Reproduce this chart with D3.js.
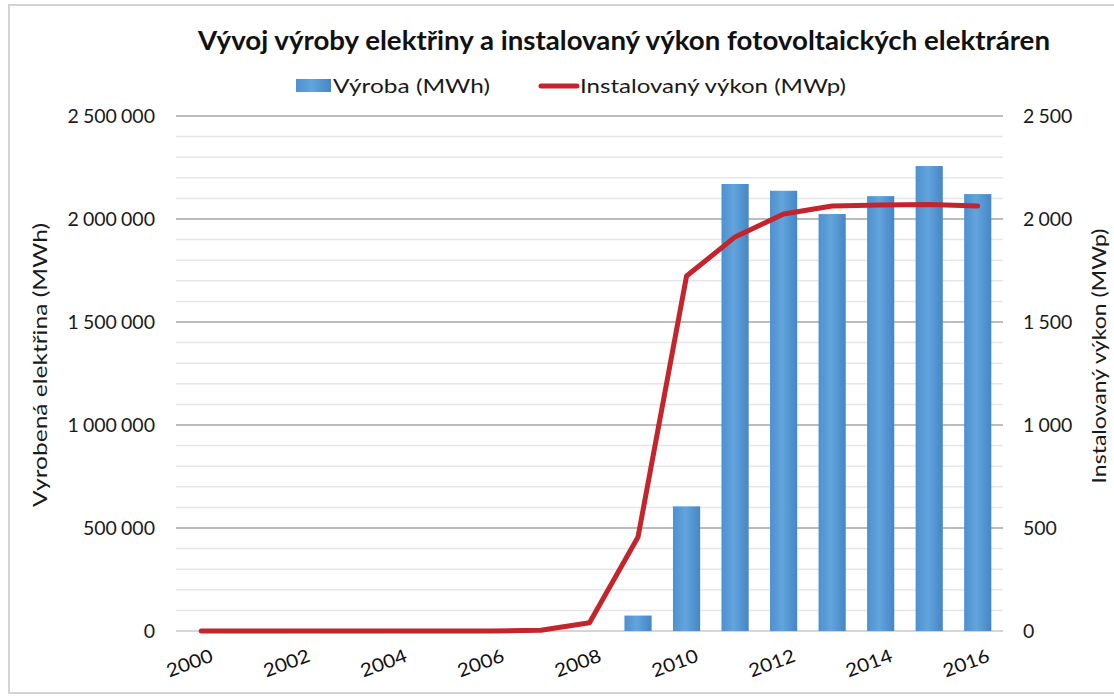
<!DOCTYPE html>
<html><head><meta charset="utf-8">
<script src="https://cdn.jsdelivr.net/npm/d3@7"></script>
<style>body{margin:0;background:#fff}svg{display:block}text{font-family:Lato,"Open Sans",sans-serif}</style>
</head><body>
<svg id="c" width="1114" height="696"></svg>
<script>
const years = [2000,2001,2002,2003,2004,2005,2006,2007,2008,2009,2010,2011,2012,2013,2014,2015,2016];
const production = [null,null,null,null,null,null,null,null,null,75000,605000,2170000,2137000,2024000,2111000,2257000,2121000];
const installed = [0,0,0,0,0.1,0.2,0.4,3.4,40,456,1723,1913,2024,2063,2068,2070,2063];
const leftTicks = [0,500000,1000000,1500000,2000000,2500000];
const rightTicks = [0,500,1000,1500,2000,2500];
const xLabelYears = [2000,2002,2004,2006,2008,2010,2012,2014,2016];
const title = "Vývoj výroby elektřiny a instalovaný výkon fotovoltaických elektráren";
const seriesNames = ["Výroba (MWh)","Instalovaný výkon (MWp)"];
const leftTitle = "Vyrobená elektřina (MWh)";
const rightTitle = "Instalovaný výkon (MWp)";

const svg = d3.select("#c");
const L=177, R=1002, T=116, B=631;
const fmt = d3.formatLocale({decimal:",",thousands:"\u2008",grouping:[3],currency:["",""]}).format(",");

// frame
svg.append("rect").attr("x",9).attr("y",5).attr("width",1120).attr("height",688)
  .attr("fill","none").attr("stroke","#d4d4d4").attr("stroke-width",2);

const x = d3.scaleBand().domain(years).range([L,R]).paddingInner(0.44).paddingOuter(0.22);
const yL = d3.scaleLinear().domain([0,2500000]).range([B,T]);
const yR = d3.scaleLinear().domain([0,2500]).range([B,T]);

const defs = svg.append("defs");
const g = defs.append("linearGradient").attr("id","bg").attr("x1","0").attr("x2","1").attr("y1","0").attr("y2","0");
g.append("stop").attr("offset","0%").attr("stop-color","#4f90cf");
g.append("stop").attr("offset","45%").attr("stop-color","#62a4dc");
g.append("stop").attr("offset","100%").attr("stop-color","#4586c6");

// minor gridlines
const minor = d3.range(100000,2500001,100000).filter(v=>v%500000!==0);
svg.append("g").selectAll("line").data(minor).join("line")
  .attr("x1",L-1).attr("x2",R+1).attr("y1",d=>yL(d)).attr("y2",d=>yL(d))
  .attr("stroke","#e6e6e6").attr("stroke-width",1.5);
// major gridlines
svg.append("g").selectAll("line").data(leftTicks).join("line")
  .attr("x1",L-1).attr("x2",R+1).attr("y1",d=>yL(d)).attr("y2",d=>yL(d))
  .attr("stroke",d=>d===0?"#c8c8c8":"#a6a6a6").attr("stroke-width",1.5);

// bars
svg.append("g").selectAll("rect").data(years.map((y,i)=>({y,v:production[i]})).filter(d=>d.v!=null)).join("rect")
  .attr("x",d=>x(d.y)).attr("width",x.bandwidth())
  .attr("y",d=>yL(d.v)).attr("height",d=>yL(0)-yL(d.v))
  .attr("fill","url(#bg)");

// line
const line = d3.line().x((d,i)=>x(years[i])+x.bandwidth()/2).y(d=>yR(d));
svg.append("path").datum(installed).attr("d",line).attr("fill","none")
  .attr("stroke","#c4242b").attr("stroke-width",5).attr("stroke-linejoin","round").attr("stroke-linecap","round");

// left axis labels
const axL = svg.append("g").attr("transform",`translate(${L-19},0)`)
  .call(d3.axisLeft(yL).tickValues(leftTicks).tickFormat(fmt).tickSize(0));
axL.select(".domain").remove();
axL.selectAll("text").attr("font-size",19.5).attr("fill","#1a1a1a").attr("dy","0.35em");

const axR = svg.append("g").attr("transform",`translate(${R+18},0)`)
  .call(d3.axisRight(yR).tickValues(rightTicks).tickFormat(fmt).tickSize(0));
axR.select(".domain").remove();
axR.selectAll("text").attr("font-size",19.5).attr("fill","#1a1a1a").attr("dy","0.35em");

// x labels
svg.append("g").selectAll("text").data(xLabelYears).join("text")
  .attr("transform",d=>`translate(${x(d)+x.bandwidth()/2+13},661) rotate(-20)`)
  .attr("text-anchor","end").attr("font-size",18.5).attr("fill","#111")
  .attr("textLength",48).attr("lengthAdjust","spacingAndGlyphs").text(d=>d);

// axis titles
svg.append("text").attr("transform","translate(47,365) rotate(-90)").attr("text-anchor","middle")
  .attr("font-size",20).attr("fill","#1a1a1a").attr("textLength",284).attr("lengthAdjust","spacingAndGlyphs").text(leftTitle);
svg.append("text").attr("transform","translate(1106,356) rotate(-90)").attr("text-anchor","middle")
  .attr("font-size",20).attr("fill","#1a1a1a").attr("textLength",255).attr("lengthAdjust","spacingAndGlyphs").text(rightTitle);

// title
svg.append("text").attr("x",198).attr("y",50).attr("font-size",26).attr("font-weight","bold")
  .attr("fill","#111").attr("textLength",852).attr("lengthAdjust","spacingAndGlyphs").text(title);

// legend
svg.append("rect").attr("x",296).attr("y",79).attr("width",35).attr("height",13).attr("fill","url(#bg)");
svg.append("text").attr("x",333).attr("y",93).attr("font-size",20).attr("fill","#1a1a1a")
  .attr("textLength",157).attr("lengthAdjust","spacingAndGlyphs").text(seriesNames[0]);
svg.append("line").attr("x1",541).attr("x2",577).attr("y1",86).attr("y2",86)
  .attr("stroke","#c4242b").attr("stroke-width",5).attr("stroke-linecap","round");
svg.append("text").attr("x",580).attr("y",93).attr("font-size",20).attr("fill","#1a1a1a")
  .attr("textLength",266).attr("lengthAdjust","spacingAndGlyphs").text(seriesNames[1]);
</script>
</body></html>
